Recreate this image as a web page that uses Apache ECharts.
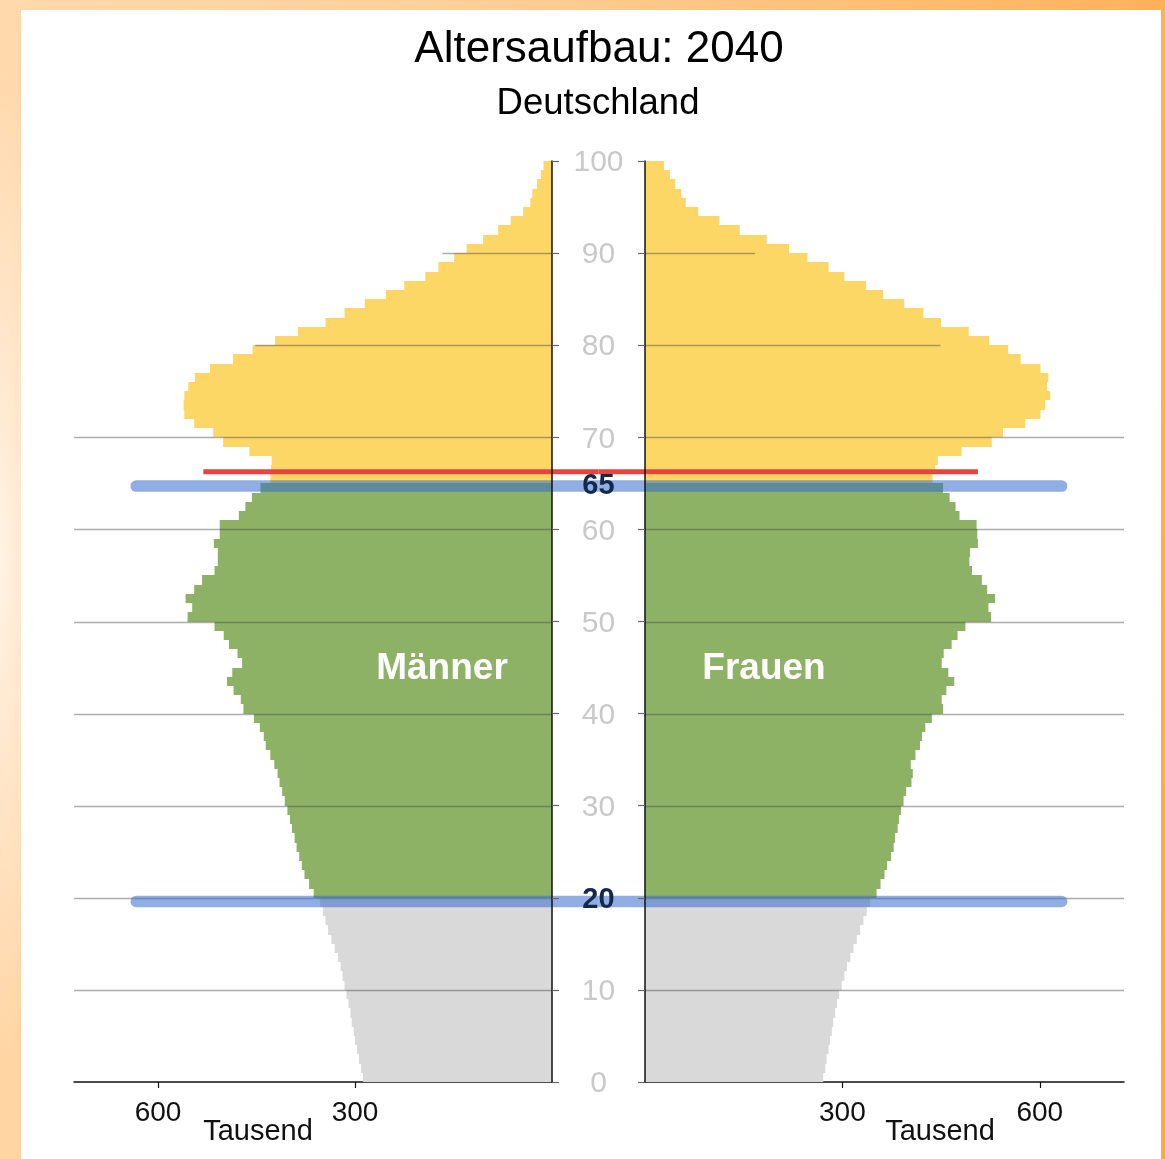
<!DOCTYPE html>
<html>
<head>
<meta charset="utf-8">
<script src="https://cdn.jsdelivr.net/npm/echarts@6.0.0/dist/echarts.min.js"></script>
<style>
html,body{margin:0;padding:0;width:1165px;height:1159px;overflow:hidden;}
body{background:
  radial-gradient(ellipse 60px 500px at 0px 560px, rgba(255,246,236,0.9), rgba(255,246,236,0) 100%),
  linear-gradient(100deg,#FFD9AC 0%,#FFCF98 35%,#FFB867 75%,#FFA744 100%);}
#frame{position:absolute;left:21px;top:10px;width:1140px;height:1149px;background:#fff;}
#chart{width:1140px;height:1149px;}
</style>
</head>
<body>
<div id="frame"><div id="chart"></div></div>
<script>
// ---------- data ----------
const ages = [
  0,1,2,3,4,5,6,7,8,9,10,11,12,13,14,15,16,17,18,19,
  20,21,22,23,24,25,26,27,28,29,30,31,32,33,34,35,36,37,38,39,
  40,41,42,43,44,45,46,47,48,49,50,51,52,53,54,55,56,57,58,59,
  60,61,62,63,64,65,66,67,68,69,70,71,72,73,74,75,76,77,78,79,
  80,81,82,83,84,85,86,87,88,89,90,91,92,93,94,95,96,97,98,99
];
// Männer, in Tausend
const men = [
  288,291,294,297,300,302,305,307,310,313,
  316,319,322,326,331,336,341,345,349,353,
  363,370,377,381,385,389,392,396,399,403,
  407,411,415,418,423,429,436,439,445,454,
  470,474,485,495,487,472,479,492,500,514,
  555,548,558,545,533,514,509,509,515,506,
  506,477,467,457,444,429,428,427,461,501,
  516,545,560,561,560,554,544,521,486,456,
  422,387,345,316,285,253,225,193,173,149,
  130,105,82,63,44,33,30,23,17,13
];
// Frauen, in Tausend
const women = [
  271,274,276,279,281,284,286,289,292,295,
  299,303,307,312,317,322,327,332,337,342,
  352,358,364,368,374,378,380,384,386,389,
  393,397,405,407,404,411,418,421,426,436,
  453,451,458,470,461,451,454,466,475,487,
  526,522,532,520,512,497,493,494,506,505,
  504,478,472,463,453,437,441,445,481,527,
  544,578,601,608,616,611,613,601,571,552,
  523,492,450,423,394,362,336,303,279,247,
  219,185,144,113,81,62,55,46,38,29
];
const groupBreaks = [20, 65];               // Altersgruppen-Grenzen
const ageTicks = [0,10,20,30,40,50,60,70,80,90,100];
const highlightAges = [20, 65];
const xTicks = [300, 600];
const xMax = 728;
// horizontal reference lines (age, reach in Tausend)
const gridLevels = [10,20,30,40,50,60,70,80,90];
const gridReachMen = [728,728,728,728,728,728,728,452,167];
const gridReachWomen = [728,728,728,728,728,728,728,449,167];
// blue marker lines (age position, reach)
const blueAges = [19.6, 64.7];
const blueReach = [642, 642];
// red line
const redAge = 66.25;
const redReachMen = 531;
const redReachWomen = 506;

// ---------- styles ----------
const FONT = '"Liberation Sans", Arial, Helvetica, sans-serif';
const C_GRAY = '#D9D9D9', C_GREEN = '#8DB266', C_YELLOW = '#FDD766';
const BLUE = 'rgba(52,108,204,0.55)';
const RED = '#E8433D';
const GAP = 93;
const BLUE_W = 11.5;
const RED_W = 5;

function colorFor(age){
  if (age < groupBreaks[0]) return C_GRAY;
  if (age < groupBreaks[1]) return C_GREEN;
  return C_YELLOW;
}

const chart = echarts.init(document.getElementById('chart'), null, {renderer:'canvas'});

function barRender(params, api){
  const val = api.value(0), age = api.value(1);
  const p0 = api.coord([0, age]);
  const p1 = api.coord([val, age + 1]);
  const yTop = Math.round(p1[1]), yBot = Math.round(p0[1]);
  const x0 = Math.min(p0[0], p1[0]), x1 = Math.max(p0[0], p1[0]);
  return {type:'rect', shape:{x:x0, y:yTop, width:x1-x0, height:yBot-yTop},
          style:{fill: colorFor(age)}};
}
function gridRender(params, api){
  const lvl = api.value(1);
  const a = api.coord([0, lvl]);
  const b = api.coord([api.value(0), lvl]);
  const y = Math.round(a[1]) + 0.5;
  return {type:'line', shape:{x1:a[0], y1:y, x2:b[0], y2:y},
          style:{stroke:'rgba(70,70,70,0.45)', lineWidth:1.5}};
}
function blueRenderLeft(params, api){
  const cs = params.coordSys;
  const p = api.coord([api.value(0), api.value(1)]);
  const inner = cs.x + cs.width + GAP/2;
  return {type:'rect', shape:{x:p[0], y:p[1]-BLUE_W/2, width:inner-p[0], height:BLUE_W, r:[BLUE_W/2,0,0,BLUE_W/2]},
          style:{fill:BLUE}};
}
function blueRenderRight(params, api){
  const cs = params.coordSys;
  const p = api.coord([api.value(0), api.value(1)]);
  const inner = cs.x - GAP/2;
  return {type:'rect', shape:{x:inner, y:p[1]-BLUE_W/2, width:p[0]-inner, height:BLUE_W, r:[0,BLUE_W/2,BLUE_W/2,0]},
          style:{fill:BLUE}};
}
function redRenderLeft(params, api){
  const cs = params.coordSys;
  const p = api.coord([api.value(0), api.value(1)]);
  const inner = cs.x + cs.width + GAP/2;
  return {type:'rect', shape:{x:p[0], y:p[1]-RED_W/2, width:inner-p[0], height:RED_W}, style:{fill:RED}};
}
function redRenderRight(params, api){
  const cs = params.coordSys;
  const p = api.coord([api.value(0), api.value(1)]);
  const inner = cs.x - GAP/2;
  return {type:'rect', shape:{x:inner, y:p[1]-RED_W/2, width:p[0]-inner, height:RED_W}, style:{fill:RED}};
}

function xAxisCfg(idx, inverse){
  return {
    gridIndex: idx, type:'value', min:0, max:xMax, inverse: inverse,
    axisLine:{show:true, onZero:false, lineStyle:{color:'#111', width:1.5}},
    axisTick:{show:true, customValues:xTicks, length:6, lineStyle:{color:'#111', width:1.2}},
    axisLabel:{customValues:xTicks, margin:17, fontSize:28, color:'#111', fontFamily:FONT},
    splitLine:{show:false}
  };
}

const yLabelValues = ageTicks.concat([65]);

const option = {
  animation:false,
  grid:[
    {left:53, top:151, width:478, height:921},
    {left:624, top:151, width:479, height:921}
  ],
  xAxis:[ xAxisCfg(0, true), xAxisCfg(1, false) ],
  yAxis:[
    {gridIndex:0, type:'value', min:0, max:100, interval:10, position:'right', z:10,
     axisLine:{show:true, onZero:false, lineStyle:{color:'#111', width:1.5}},
     axisTick:{show:true, length:7, lineStyle:{color:'#666', width:1.2}},
     axisLabel:{customValues:yLabelValues, margin:46.5, align:'center', verticalAlign:'middle',
       formatter:function(v){ return highlightAges.indexOf(v) >= 0 ? '{b|'+v+'}' : '{g|'+v+'}'; },
       rich:{
         g:{color:'#C9C9C9', fontSize:30, fontFamily:FONT, align:'center', padding:[4,0,0,0]},
         b:{color:'#13294B', fontSize:29, fontWeight:'bold', fontFamily:FONT, align:'center', padding:[5,0,0,0]}
       }},
     splitLine:{show:false}},
    {gridIndex:1, type:'value', min:0, max:100, interval:10, position:'left', z:10,
     axisLine:{show:true, onZero:false, lineStyle:{color:'#111', width:1.5}},
     axisTick:{show:true, length:7, lineStyle:{color:'#666', width:1.2}},
     axisLabel:{show:false},
     splitLine:{show:false}}
  ],
  series:[
    {type:'custom', name:'Männer', xAxisIndex:0, yAxisIndex:0, z:2,
     data: men.map((v,i)=>[v, ages[i]]), encode:{x:0, y:1}, renderItem:barRender},
    {type:'custom', name:'Frauen', xAxisIndex:1, yAxisIndex:1, z:2,
     data: women.map((v,i)=>[v, ages[i]]), encode:{x:0, y:1}, renderItem:barRender},
    {type:'custom', xAxisIndex:0, yAxisIndex:0, z:3, silent:true,
     data: gridLevels.map((l,i)=>[gridReachMen[i], l]), encode:{x:0,y:1}, renderItem:gridRender},
    {type:'custom', xAxisIndex:1, yAxisIndex:1, z:3, silent:true,
     data: gridLevels.map((l,i)=>[gridReachWomen[i], l]), encode:{x:0,y:1}, renderItem:gridRender},
    {type:'custom', xAxisIndex:0, yAxisIndex:0, z:4, silent:true,
     data: blueAges.map((a,i)=>[blueReach[i], a]), encode:{x:0,y:1}, renderItem:blueRenderLeft},
    {type:'custom', xAxisIndex:1, yAxisIndex:1, z:4, silent:true,
     data: blueAges.map((a,i)=>[blueReach[i], a]), encode:{x:0,y:1}, renderItem:blueRenderRight},
    {type:'custom', xAxisIndex:0, yAxisIndex:0, z:5, silent:true,
     data: [[redReachMen, redAge]], encode:{x:0,y:1}, renderItem:redRenderLeft},
    {type:'custom', xAxisIndex:1, yAxisIndex:1, z:5, silent:true,
     data: [[redReachWomen, redAge]], encode:{x:0,y:1}, renderItem:redRenderRight}
  ],
  graphic:[
    {type:'text', x:578, y:40, z:20, style:{text:'Altersaufbau: 2040', fontSize:44, fontFamily:FONT, fill:'#000', align:'center', verticalAlign:'middle'}},
    {type:'text', x:577, y:94, z:20, style:{text:'Deutschland', fontSize:36.5, fontFamily:FONT, fill:'#000', align:'center', verticalAlign:'middle'}},
    {type:'text', x:421, y:659, z:20, style:{text:'Männer', fontSize:37, fontWeight:'bold', fontFamily:FONT, fill:'#fff', align:'center', verticalAlign:'middle'}},
    {type:'text', x:743, y:659, z:20, style:{text:'Frauen', fontSize:37, fontWeight:'bold', fontFamily:FONT, fill:'#fff', align:'center', verticalAlign:'middle'}},
    {type:'text', x:237, y:1122, z:20, style:{text:'Tausend', fontSize:29, fontFamily:FONT, fill:'#111', align:'center', verticalAlign:'middle'}},
    {type:'text', x:919, y:1122, z:20, style:{text:'Tausend', fontSize:29, fontFamily:FONT, fill:'#111', align:'center', verticalAlign:'middle'}}
  ]
};
chart.setOption(option);
</script>
</body>
</html>
